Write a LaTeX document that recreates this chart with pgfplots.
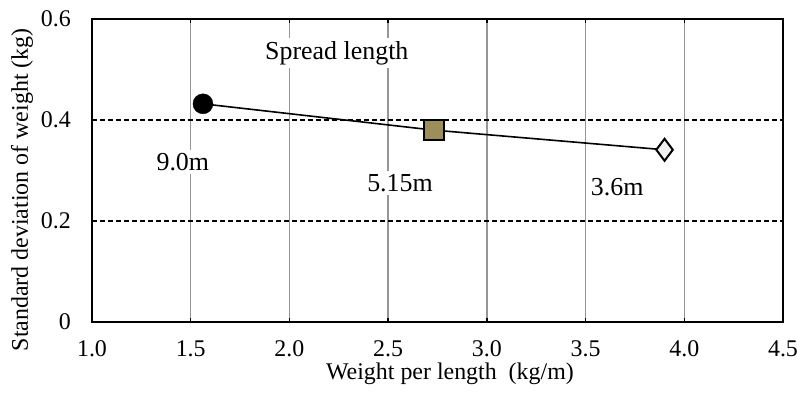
\documentclass[border=0pt]{standalone}
\usepackage{pgfplots}
\pgfplotsset{compat=1.18}
\usepackage{fontspec}
\setmainfont{Liberation Serif}
\definecolor{olivebox}{RGB}{155,142,90}
\definecolor{gridgray}{RGB}{150,150,150}
\begin{document}
\begin{tikzpicture}
\begin{axis}[
  scale only axis,
  width=691bp, height=303bp,
  xmin=1, xmax=4.5, ymin=0, ymax=0.6,
  xtick={1,1.5,2,2.5,3,3.5,4,4.5},
  xticklabels={1.0,1.5,2.0,2.5,3.0,3.5,4.0,4.5},
  ytick={0,0.2,0.4,0.6},
  yticklabels={0,0.2,0.4,0.6},
  /pgf/number format/assume math mode=true,
  tick label style={font=\fontsize{24}{28}\selectfont, inner sep=0pt},
  label style={font=\fontsize{24}{28}\selectfont},
  xticklabel style={anchor=center, yshift=-27bp},
  yticklabel style={anchor=east, xshift=-21bp},
  xlabel={Weight per length\ \ (kg/m)},
  ylabel={Standard deviation of weight (kg)},
  xlabel style={at={(axis description cs:0.518,0)}, anchor=center, yshift=-52bp},
  ylabel style={at={(axis description cs:0,0.436)}, anchor=center, yshift=70bp},
  axis line style={line width=2.8bp},
  xmajorgrids, ymajorgrids,
  major x grid style={gridgray, line width=1.3bp},
  major y grid style={black, line width=1.1bp, dash pattern=on 5bp off 3bp},
  tick align=inside,
  xtick style={black, line width=1.3bp},
  major tick length=4bp,
  ytick style={draw=none},
  clip=false,
]
\addplot[black, line width=1.6bp, mark=none] coordinates {(1.562,0.432) (2.73,0.380) (3.90,0.341)};
\addplot[only marks, mark=*, mark size=10bp, mark options={fill=black, draw=black}] coordinates {(1.562,0.432)};
\addplot[only marks, mark=square*, mark size=10bp, mark options={fill=olivebox, draw=black, line width=2bp}] coordinates {(2.73,0.380)};
\addplot[only marks, mark=diamond*, mark size=11bp, mark options={fill=black!6, draw=black, line width=2bp}] coordinates {(3.90,0.341)};
\node[fill=white, inner sep=3bp, font=\fontsize{26}{30}\selectfont] at (axis cs:2.24,0.533) {Spread length};
\node[fill=white, inner sep=3bp, font=\fontsize{26}{30}\selectfont] at (axis cs:1.46,0.317) {9.0m};
\node[fill=white, inner sep=3bp, font=\fontsize{26}{30}\selectfont] at (axis cs:2.56,0.275) {5.15m};
\node[fill=white, inner sep=3bp, font=\fontsize{26}{30}\selectfont] at (axis cs:3.66,0.267) {3.6m};
\coordinate (o) at (rel axis cs:0,0);
\coordinate (t) at (rel axis cs:1,1);
\end{axis}
\pgfresetboundingbox
\path ([shift={(-92bp,-75bp)}]o) rectangle ([shift={(14bp,19bp)}]t);
\end{tikzpicture}
\end{document}
